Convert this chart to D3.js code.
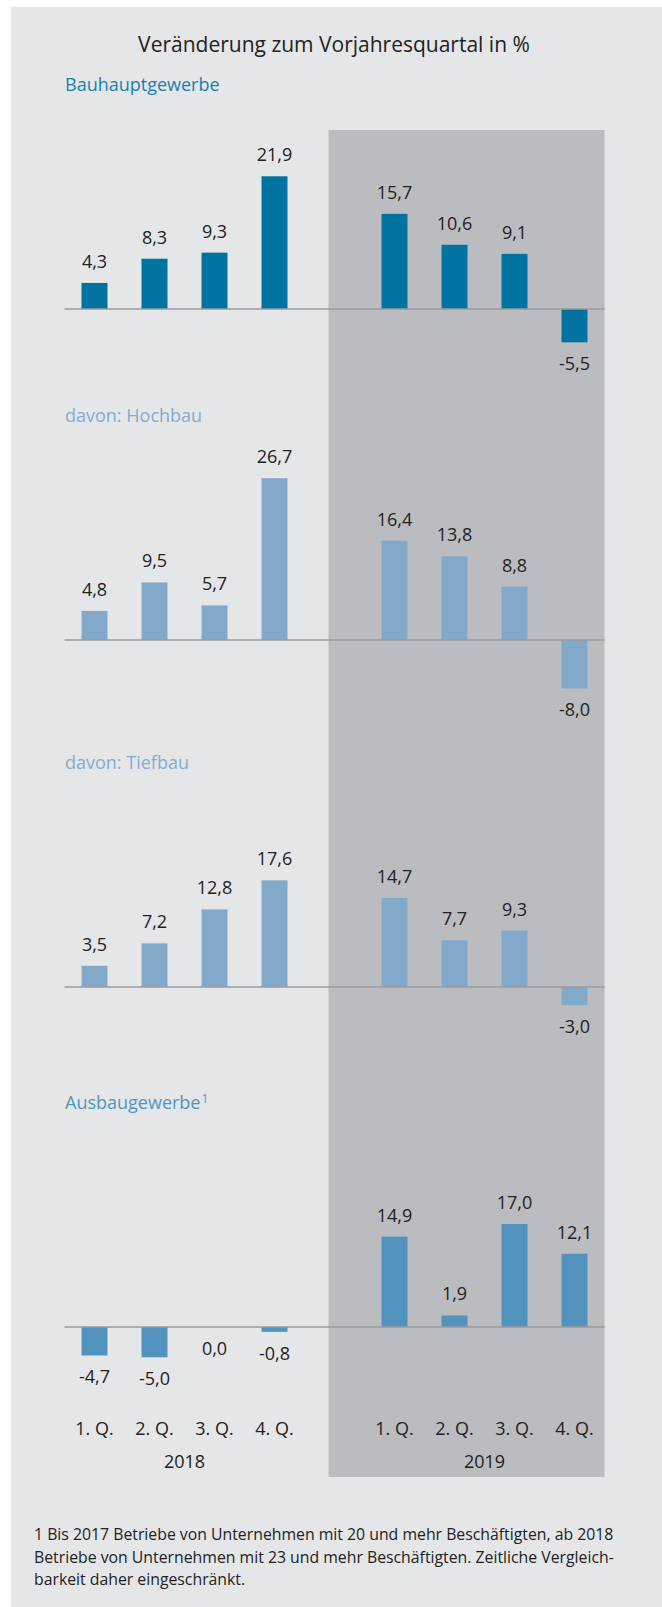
<!DOCTYPE html>
<html lang="de">
<head>
<meta charset="utf-8">
<script src="https://cdn.jsdelivr.net/npm/d3@7"></script>
<style>
  body { margin: 0; background: #fff; }
  svg { display: block; font-family: "Open Sans", sans-serif; }
  .val { font-size: 18px; fill: #222; text-anchor: middle; }
  .tick { font-size: 18px; fill: #222; text-anchor: middle; }
</style>
</head>
<body>
<svg id="chart" width="662" height="1607"></svg>
<script>
// ---- Daten (Veränderung zum Vorjahresquartal in %) ----
let quarters = ["1. Q.", "2. Q.", "3. Q.", "4. Q."];
let years = ["2018", "2019"];

let panelTitles = ["Bauhauptgewerbe", "davon: Hochbau", "davon: Tiefbau", "Ausbaugewerbe"];

let bauhauptgewerbe = [4.3, 8.3, 9.3, 21.9, 15.7, 10.6, 9.1, -5.5];
let hochbau         = [4.8, 9.5, 5.7, 26.7, 16.4, 13.8, 8.8, -8.0];
let tiefbau         = [3.5, 7.2, 12.8, 17.6, 14.7, 7.7, 9.3, -3.0];
let ausbaugewerbe   = [-4.7, -5.0, 0.0, -0.8, 14.9, 1.9, 17.0, 12.1];

let footnote = [
  "1 Bis 2017 Betriebe von Unternehmen mit 20 und mehr Beschäftigten, ab 2018",
  "Betriebe von Unternehmen mit 23 und mehr Beschäftigten. Zeitliche Vergleich-",
  "barkeit daher eingeschränkt."
];

// ---- Layout ----
let W = 662, H = 1607;
let svg = d3.select("#chart");

// Hintergrund
svg.append("rect").attr("x", 11).attr("y", 7).attr("width", W - 11).attr("height", H - 7).attr("fill", "#e5e6e8");

// Kategorien: 2018 Q1-4, Lücke, 2019 Q1-4
let keys = [];
years.forEach((y, yi) => {
  if (yi > 0) keys.push("gap" + yi);
  quarters.forEach(q => keys.push(y + "|" + q));
});

let x = d3.scaleBand()
  .domain(keys)
  .range([64.5, 604.5])
  .paddingInner(1 - 26 / 60)
  .paddingOuter((1 - 26 / 60) / 2);

let bw = x.bandwidth();
let cx = k => x(k) + bw / 2;

let fmt = d3.formatLocale({ decimal: ",", thousands: ".", grouping: [3], currency: ["", "€"], minus: "-" }).format(".1f");

// grau hinterlegter Bereich 2019
let shadeX0 = (cx(years[0] + "|" + quarters[3]) + cx(years[1] + "|" + quarters[0])) / 2 - 6;
svg.append("rect")
  .attr("x", shadeX0).attr("y", 130)
  .attr("width", x.range()[1] - shadeX0).attr("height", 1477 - 130)
  .attr("fill", "#bbbcbf");

// Titel
svg.append("text")
  .attr("x", 334).attr("y", 52)
  .attr("text-anchor", "middle")
  .attr("font-size", 21).attr("fill", "#222")
  .text("Veränderung zum Vorjahresquartal in %");

// Panels
let series = [bauhauptgewerbe, hochbau, tiefbau, ausbaugewerbe];
let barColors = ["#0073a1", "#82a9ca", "#82a9ca", "#5193bd"];
let titleColors = ["#1a80ae", "#85acd0", "#85acd0", "#4f96c2"];
let zeroY = [309, 640, 987, 1327];
let pxPerUnit = 6.06;

series.forEach((vals, pi) => {
  let z = zeroY[pi];
  let y = d3.scaleLinear().domain([0, 10]).range([z, z - 10 * pxPerUnit]);

  let t = svg.append("text")
    .attr("x", 65).attr("y", z - 218)
    .attr("font-size", 18).attr("fill", titleColors[pi])
    .text(panelTitles[pi]);
  if (pi === 3) {
    t.append("tspan").attr("font-size", 12).attr("dx", 1).attr("dy", -6).text("1");
  }

  let data = [];
  years.forEach((yr, yi) => quarters.forEach((q, qi) => {
    data.push({ key: yr + "|" + q, value: vals[yi * quarters.length + qi] });
  }));

  let g = svg.append("g");

  g.selectAll("rect.bar")
    .data(data)
    .join("rect")
    .attr("class", "bar")
    .attr("x", d => x(d.key))
    .attr("width", bw)
    .attr("y", d => Math.min(y(d.value), y(0)))
    .attr("height", d => Math.abs(y(d.value) - y(0)))
    .attr("fill", barColors[pi]);

  g.append("line")
    .attr("x1", x.range()[0]).attr("x2", x.range()[1])
    .attr("y1", y(0)).attr("y2", y(0))
    .attr("stroke", "#9a9b9e").attr("stroke-width", 1.5);

  g.selectAll("text.val")
    .data(data)
    .join("text")
    .attr("class", "val")
    .attr("x", d => cx(d.key))
    .attr("y", d => d.value > 0 ? y(d.value) - 15 : y(d.value) + 28)
    .text(d => fmt(d.value));
});

// Achsenbeschriftung
let axisG = svg.append("g");
years.forEach(yr => {
  quarters.forEach(q => {
    axisG.append("text").attr("class", "tick")
      .attr("x", cx(yr + "|" + q)).attr("y", 1435)
      .text(q);
  });
  let mid = (cx(yr + "|" + quarters[0]) + cx(yr + "|" + quarters[quarters.length - 1])) / 2;
  axisG.append("text").attr("class", "tick")
    .attr("x", mid).attr("y", 1468)
    .text(yr);
});

// Fußnote
svg.append("g").selectAll("text")
  .data(footnote)
  .join("text")
  .attr("x", 34)
  .attr("y", (d, i) => 1540 + i * 22.5)
  .attr("font-size", 15.8).attr("fill", "#222")
  .text(d => d);
</script>
</body>
</html>
